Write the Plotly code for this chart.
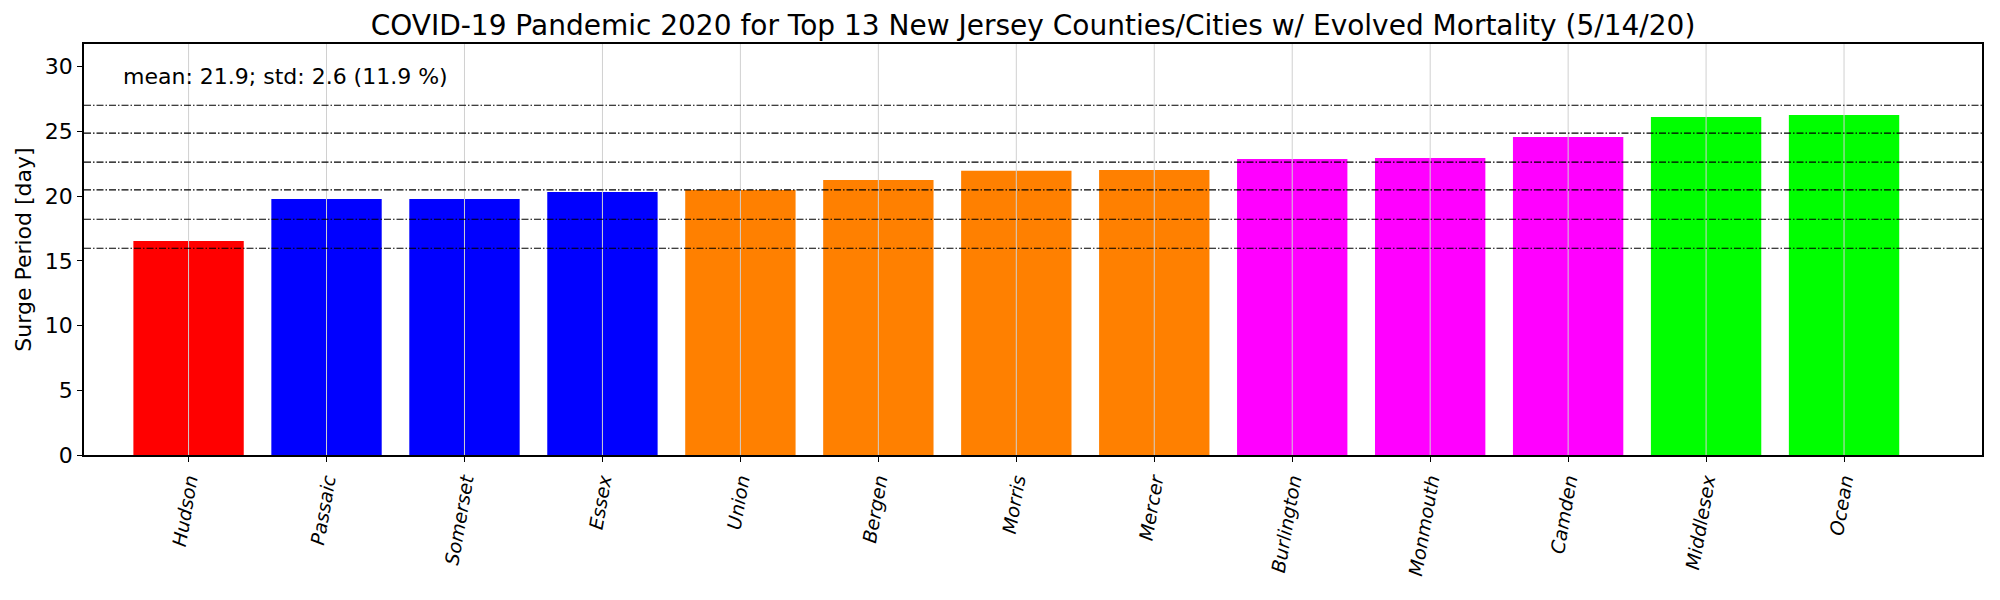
import plotly.graph_objects as go

counties = ["Hudson", "Passaic", "Somerset", "Essex", "Union", "Bergen", "Morris",
            "Mercer", "Burlington", "Monmouth", "Camden", "Middlesex", "Ocean"]
surge_days = [16.54, 19.78, 19.78, 20.32, 20.48, 21.25, 21.95, 22.02, 22.87, 22.95, 24.57, 26.12, 26.27]
bar_colors = ["#ff0000", "#0000ff", "#0000ff", "#0000ff", "#ff8000", "#ff8000", "#ff8000",
              "#ff8000", "#ff00ff", "#ff00ff", "#ff00ff", "#00ff00", "#00ff00"]
ref_lines = [15.97, 18.21, 20.48, 22.62, 24.86, 27.02]
title = "COVID-19 Pandemic 2020 for Top 13 New Jersey Counties/Cities w/ Evolved Mortality (5/14/20)"
stats_text = "mean: 21.9; std: 2.6 (11.9 %)"

FONT = "DejaVu Sans"
# the page body has an 8px default margin; size the figure to fit the window
W, H = 1984, 584

fig = go.Figure()
fig.add_trace(go.Bar(x=counties, y=surge_days, marker=dict(color=bar_colors, line=dict(width=0)),
                     width=0.8, showlegend=False))

shapes = []
# vertical grid lines drawn on top of bars
for c in counties:
    shapes.append(dict(type="line", xref="x", yref="paper", x0=c, x1=c, y0=0, y1=1,
                       line=dict(color="#d0d0d0", width=1), layer="above"))
for v in ref_lines:
    shapes.append(dict(type="line", xref="paper", yref="y", x0=0, x1=1, y0=v, y1=v,
                       line=dict(color="black", width=1.2, dash="7px,2px,1.5px,2px"), layer="above"))

fig.update_layout(
    width=W, height=H,
    margin=dict(l=76, r=8, t=36, b=137),
    paper_bgcolor="white", plot_bgcolor="white",
    bargap=0.2,
    shapes=shapes,
    title=dict(text=title, x=0.5, xref="paper", xanchor="center", y=1 - 17/H, yanchor="middle",
               font=dict(family=FONT, size=28, color="black")),
    xaxis=dict(range=[-0.758, 13.0], showgrid=False, ticks="outside", ticklen=5, tickwidth=1.2,
               tickcolor="black", showline=True, linecolor="black", linewidth=1.5, mirror=True,
               tickangle=-80, tickfont=dict(family=FONT, size=19, color="black", style="italic")),
    yaxis=dict(range=[0, 31.75], tickvals=[0, 5, 10, 15, 20, 25, 30], showgrid=False, zeroline=False,
               ticks="outside", ticklen=5, tickwidth=1.2, tickcolor="black",
               showline=True, linecolor="black", linewidth=1.5, mirror=True,
               tickfont=dict(family=FONT, size=22, color="black"),
               title=dict(text="Surge Period [day]", font=dict(family=FONT, size=22, color="black"),
                          standoff=7)),
    annotations=[dict(text=stats_text, xref="paper", yref="paper", x=0.0195, y=0.92,
                      xanchor="left", yanchor="middle", showarrow=False,
                      font=dict(family=FONT, size=22, color="black"))],
)

fig.write_html("out.html")
